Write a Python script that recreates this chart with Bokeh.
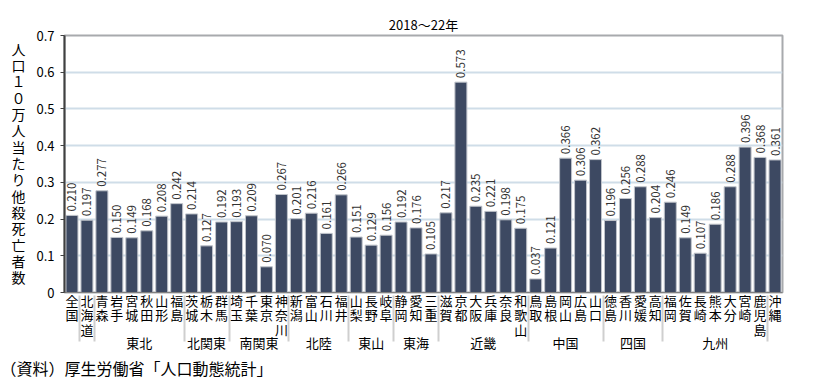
from bokeh.plotting import figure
from bokeh.models import ColumnDataSource, FactorRange, LabelSet, Title, FixedTicker, Range1d
from bokeh.core.properties import value
from bokeh.embed import file_html
from bokeh.resources import INLINE

prefectures = ["全国", "北海道", "青森", "岩手", "宮城", "秋田", "山形", "福島",
               "茨城", "栃木", "群馬", "埼玉", "千葉", "東京", "神奈川",
               "新潟", "富山", "石川", "福井", "山梨", "長野", "岐阜",
               "静岡", "愛知", "三重", "滋賀", "京都", "大阪", "兵庫", "奈良", "和歌山",
               "鳥取", "島根", "岡山", "広島", "山口", "徳島", "香川", "愛媛", "高知",
               "福岡", "佐賀", "長崎", "熊本", "大分", "宮崎", "鹿児島", "沖縄"]
regions = ["", "", "東北", "東北", "東北", "東北", "東北", "東北",
           "北関東", "北関東", "北関東", "南関東", "南関東", "南関東", "南関東",
           "北陸", "北陸", "北陸", "北陸", "東山", "東山", "東山",
           "東海", "東海", "東海", "近畿", "近畿", "近畿", "近畿", "近畿", "近畿",
           "中国", "中国", "中国", "中国", "中国", "四国", "四国", "四国", "四国",
           "九州", "九州", "九州", "九州", "九州", "九州", "九州", ""]
values = [0.210, 0.197, 0.277, 0.150, 0.149, 0.168, 0.208, 0.242,
          0.214, 0.127, 0.192, 0.193, 0.209, 0.070, 0.267,
          0.201, 0.216, 0.161, 0.266, 0.151, 0.129, 0.156,
          0.192, 0.176, 0.105, 0.217, 0.573, 0.235, 0.221, 0.198, 0.175,
          0.037, 0.121, 0.366, 0.306, 0.362, 0.196, 0.256, 0.288, 0.204,
          0.246, 0.149, 0.107, 0.186, 0.288, 0.396, 0.368, 0.361]
y_ticks = [0, 0.1, 0.2, 0.3, 0.4, 0.5, 0.6, 0.7]
y_tick_labels = ["0", "0.1", "0.2", "0.3", "0.4", "0.5", "0.6", "0.7"]
title_text = "2018～22年"
y_title = "人口１０万人当たり他殺死亡者数"
source_note = "（資料）厚生労働省「人口動態統計」"

FONT = "Noto Sans CJK JP"
TIGHT = "DejaVu Sans, Noto Sans CJK JP"

# unique group keys (blank groups must differ from each other)
group_keys = []
blank_count = 0
for r in regions:
    if r == "":
        blank_count += 1
        group_keys.append(" " * blank_count)
    else:
        group_keys.append(r)

factors = [(g, "\n".join(pname)) for g, pname in zip(group_keys, prefectures)]
labels = [f"{v:.3f}" for v in values]

src = ColumnDataSource(dict(x=factors, value=values, label=labels))

p = figure(x_range=FactorRange(*factors, factor_padding=0, group_padding=0,
                               subgroup_padding=0, range_padding=0),
           y_range=Range1d(0, 0.7),
           width=820, height=386, output_backend="svg", toolbar_location=None,
           min_border_left=64, min_border_right=38, min_border_top=35, min_border_bottom=94)

p.vbar(x="x", top="value", width=0.8, source=src,
       fill_color="#3d4962", line_color="#bfc3ca", line_width=1)

p.add_layout(LabelSet(x="x", y="value", text="label", source=src,
                      angle=90, angle_units="deg", y_offset=4,
                      text_align="left", text_baseline="middle",
                      text_font=value(FONT), text_font_size="11.5px", text_color="#333333"))

# title
p.title.text = title_text
p.title.align = "center"
p.title.vertical_align = "bottom"
p.title.offset = -7
p.title.standoff = 3
p.title.text_font = FONT
p.title.text_font_size = "13px"
p.title.text_font_style = "normal"
p.title.text_color = "#000000"

# frame
p.outline_line_color = "#a8aaad"
p.outline_line_width = 2
p.background_fill_color = "white"
p.border_fill_color = "white"

# grid
p.xgrid.visible = False
p.ygrid.ticker = FixedTicker(ticks=y_ticks)
p.ygrid.grid_line_color = "#cfdde8"
p.ygrid.grid_line_width = 2

# y axis
ya = p.yaxis[0]
ya.ticker = FixedTicker(ticks=y_ticks)
ya.major_label_overrides = dict(zip(y_ticks, y_tick_labels))
ya.axis_line_color = "#404040"
ya.axis_line_width = 2
ya.major_tick_line_color = "#404040"
ya.major_tick_out = 4
ya.major_tick_in = 0
ya.minor_tick_line_color = None
ya.major_label_standoff = 6
ya.major_label_text_font = FONT
ya.major_label_text_font_size = "13px"
ya.major_label_text_color = "#000000"
ya.axis_label = "\n".join(y_title)
ya.axis_label_orientation = "horizontal"
ya.axis_label_text_font = TIGHT
ya.axis_label_text_font_size = "14px"
ya.axis_label_text_line_height = 1.02
ya.axis_label_text_font_style = "normal"
ya.axis_label_text_color = "#000000"
ya.axis_label_standoff = 8

# x axis (nested categories)
xa = p.xaxis[0]
xa.axis_line_color = "#808080"
xa.axis_line_width = 1
xa.major_tick_line_color = None
xa.minor_tick_line_color = None
xa.major_label_standoff = -5
xa.major_label_text_font = TIGHT
xa.major_label_text_font_size = "13px"
xa.major_label_text_line_height = 0.97
xa.major_label_text_color = "#000000"
xa.group_text_font = TIGHT
xa.group_text_font_size = "13px"
xa.group_text_font_style = "normal"
xa.group_text_color = "#000000"
xa.separator_line_color = "#cfcfcf"
xa.separator_line_width = 2

# source note below the chart
p.add_layout(Title(text=source_note, align="left", offset=-64, standoff=0,
                   text_font=FONT, text_font_size="16px", text_font_style="normal",
                   text_color="#000000"), "below")

open("out.html", "w").write(file_html(p, INLINE))
